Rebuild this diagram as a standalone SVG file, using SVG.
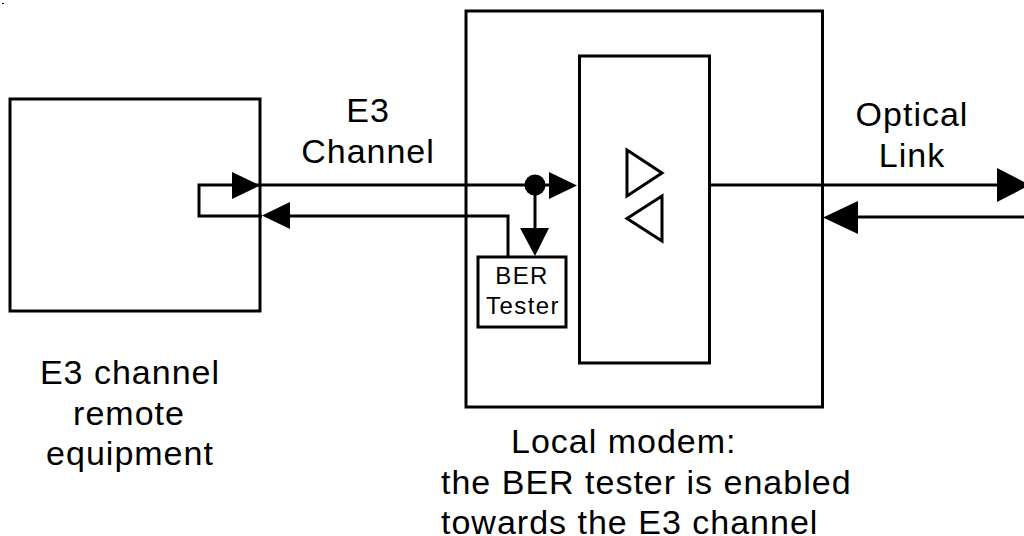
<svg xmlns="http://www.w3.org/2000/svg" width="1024" height="536" viewBox="0 0 1024 536">
<style>
.box{fill:none;stroke:#000;stroke-width:3}
.line{fill:none;stroke:#000;stroke-width:3}
.head{fill:#000;stroke:none}
.tri{fill:none;stroke:#000;stroke-width:3}
text{font-family:"Liberation Sans",Arial,sans-serif;font-size:34px;fill:#000;letter-spacing:1px}
.small{font-size:24px;letter-spacing:1.400px}
</style>
<rect width="1024" height="536" fill="#fff"/>
<rect x="2" y="3" width="2" height="1" fill="#000"/>
<g id="connectors">
<path class="line" d="M259 185H199V216H262"/>
<path class="line" d="M259 185H560"/>
<path class="line" d="M508 257V216H280"/>
<path class="line" d="M535 185V240"/>
<path class="line" d="M711 185H1000"/>
<path class="line" d="M1024 217H850"/>
<polygon class="head" points="232,172 260,185.500 232,199"/>
<polygon class="head" points="290,202 262,215.500 290,229"/>
<polygon class="head" points="549,172 577,185.500 549,199"/>
<polygon class="head" points="520,228 535,256 549,228"/>
<polygon class="head" points="997,168 1030,185 997,202"/>
<polygon class="head" points="858,201 823,217.500 858,234"/>
<circle class="head" cx="535" cy="185" r="10.500"/>
</g>
<g id="remote-equipment">
<rect class="box" x="10" y="99" width="250" height="212"/>
<text x="130" y="384" text-anchor="middle">E3 channel</text>
<text x="129" y="425" text-anchor="middle">remote</text>
<text x="130" y="465" text-anchor="middle">equipment</text>
</g>
<g id="local-modem">
<rect class="box" x="466" y="11" width="356.500" height="396"/>
<text x="511" y="453">Local modem:</text>
<text x="441" y="494">the BER tester is enabled</text>
<text x="441" y="534">towards the E3 channel</text>
</g>
<g id="modem-core">
<rect class="box" x="579.500" y="56" width="130" height="307"/>
<polygon class="tri" points="627,150 662,173 627,196"/>
<polygon class="tri" points="662,196 627,218.500 662,241"/>
</g>
<g id="ber-tester">
<rect class="box" x="478" y="257" width="88" height="70"/>
<text class="small" x="522" y="284" text-anchor="middle">BER</text>
<text class="small" x="523" y="314" text-anchor="middle">Tester</text>
</g>
<g id="e3-channel-label">
<text x="368" y="122" text-anchor="middle">E3</text>
<text x="368" y="163" text-anchor="middle">Channel</text>
</g>
<g id="optical-link-label">
<text x="912" y="126" text-anchor="middle">Optical</text>
<text x="912" y="167" text-anchor="middle">Link</text>
</g>
</svg>
